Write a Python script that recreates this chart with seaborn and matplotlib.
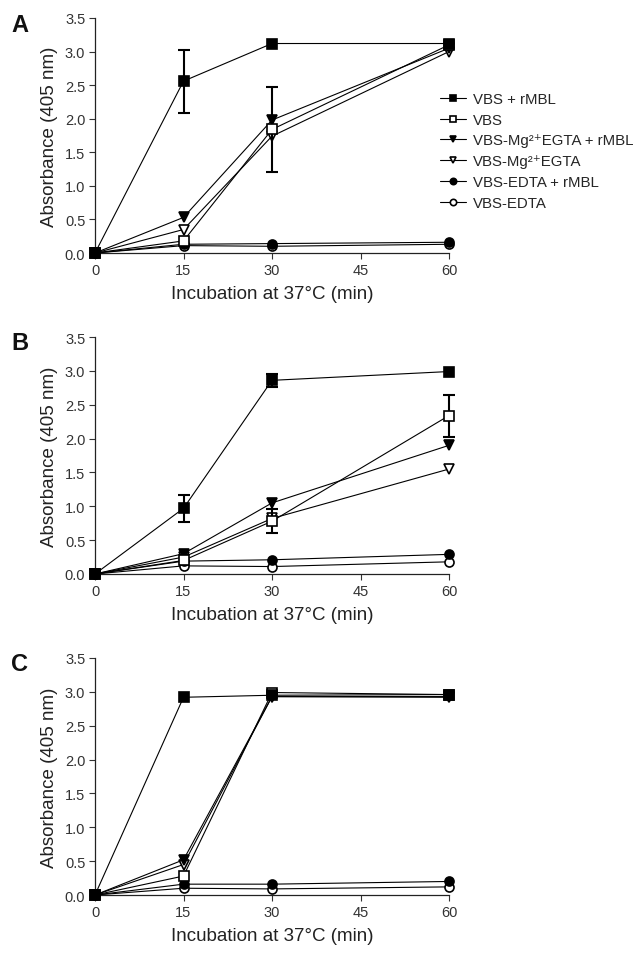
import numpy as np
import pandas as pd
import matplotlib
matplotlib.use("Agg")
import matplotlib.pyplot as plt
import seaborn as sns

# time points (min)
times = [0, 15, 30, 60]

series_names = [
    "VBS + rMBL",
    "VBS",
    "VBS-Mg²⁺EGTA + rMBL",
    "VBS-Mg²⁺EGTA",
    "VBS-EDTA + rMBL",
    "VBS-EDTA",
]

# absorbance values, one list per series
panel_a = [
    [0.0, 2.56, 3.12, 3.12],
    [0.0, 0.18, 1.84, 3.10],
    [0.0, 0.53, 1.98, 3.05],
    [0.0, 0.35, 1.74, 3.00],
    [0.0, 0.13, 0.14, 0.16],
    [0.0, 0.11, 0.10, 0.13],
]
panel_b = [
    [0.0, 0.97, 2.86, 2.99],
    [0.0, 0.20, 0.78, 2.34],
    [0.0, 0.30, 1.05, 1.90],
    [0.0, 0.25, 0.82, 1.55],
    [0.0, 0.19, 0.21, 0.29],
    [0.0, 0.12, 0.11, 0.18],
]
panel_c = [
    [0.0, 2.92, 2.95, 2.96],
    [0.0, 0.28, 2.99, 2.96],
    [0.0, 0.52, 2.93, 2.92],
    [0.0, 0.45, 2.93, 2.93],
    [0.0, 0.16, 0.16, 0.20],
    [0.0, 0.10, 0.09, 0.12],
]

# error bars (SD), zero where no bar is drawn
err_a = [
    [0, 0.47, 0, 0],
    [0, 0, 0.63, 0],
    [0, 0, 0, 0],
    [0, 0, 0, 0],
    [0, 0, 0, 0],
    [0, 0, 0, 0],
]
err_b = [
    [0, 0.20, 0.10, 0],
    [0, 0, 0.18, 0.31],
    [0, 0, 0, 0],
    [0, 0, 0, 0],
    [0, 0, 0, 0],
    [0, 0, 0, 0],
]
err_c = [[0, 0, 0, 0] for _ in range(6)]

panel_labels = ["A", "B", "C"]

markers = ["s", "s", "v", "v", "o", "o"]
filled = [True, False, True, False, True, False]
msizes = [6.5, 6.5, 7, 7, 6.5, 6.5]

sns.set_style("ticks")
plt.rcParams["font.family"] = ["Liberation Sans", "DejaVu Sans"]

fig = plt.figure(figsize=(6.41, 9.54), dpi=100)

# axes boxes in pixels: (top, bottom) of plotting area
boxes = [(19, 254), (338, 575), (659, 896)]
left_px, right_px = 95, 449
W, H = 641, 954

tick_col = "#333333"

for p, (vals, errs, lab, (top, bot)) in enumerate(
        zip([panel_a, panel_b, panel_c], [err_a, err_b, err_c], panel_labels, boxes)):
    ax = fig.add_axes([left_px / W, 1 - bot / H, (right_px - left_px) / W, (bot - top) / H])
    for i, name in enumerate(series_names):
        df = pd.DataFrame({"time": times, "absorbance": vals[i]})
        z = 10 - i
        sns.lineplot(data=df, x="time", y="absorbance", ax=ax, color="black",
                     linewidth=0.8, marker=markers[i], markersize=msizes[i],
                     markerfacecolor="black" if filled[i] else "white",
                     markeredgecolor="black", markeredgewidth=1.2,
                     clip_on=False, zorder=z, label=name, errorbar=None)
        e = np.array(errs[i], dtype=float)
        if e.any():
            mask = e > 0
            ax.errorbar(np.array(times)[mask], np.array(vals[i])[mask], yerr=e[mask],
                        fmt="none", ecolor="black", elinewidth=1.5, capsize=4.5,
                        capthick=1.5, zorder=z - 0.5, clip_on=False)

    ax.set_xlim(0, 60)
    ax.set_ylim(0, 3.5)
    ax.set_xticks([0, 15, 30, 45, 60])
    ax.set_yticks(np.arange(0, 3.51, 0.5))
    ax.set_yticklabels([f"{v:.1f}" for v in np.arange(0, 3.51, 0.5)])
    ax.tick_params(direction="out", length=4, width=0.8, color=tick_col,
                   labelsize=10.5, labelcolor=tick_col, pad=3)
    for s in ["top", "right"]:
        ax.spines[s].set_visible(False)
    for s in ["left", "bottom"]:
        ax.spines[s].set_linewidth(0.9)
        ax.spines[s].set_color("#222222")
    ax.set_xlabel("Incubation at 37°C (min)", fontsize=13.5, color="#222222", labelpad=6)
    ax.set_ylabel("Absorbance (405 nm)", fontsize=13.5, color="#222222", labelpad=5)

    if p == 0:
        ax.legend(loc="upper left", bbox_to_anchor=(440 / W, 1 - 93 / H),
                  bbox_transform=fig.transFigure, frameon=False, fontsize=10.8,
                  handlelength=1.75, handletextpad=0.45, labelspacing=0.45,
                  borderpad=0, borderaxespad=0, markerscale=0.7)
    else:
        leg = ax.get_legend()
        if leg is not None:
            leg.remove()

    fig.text(11 / W, 1 - (top + 6) / H, lab, fontsize=17, fontweight="bold",
             ha="left", va="center", color="#111111")

fig.savefig("out.png", dpi=100)
